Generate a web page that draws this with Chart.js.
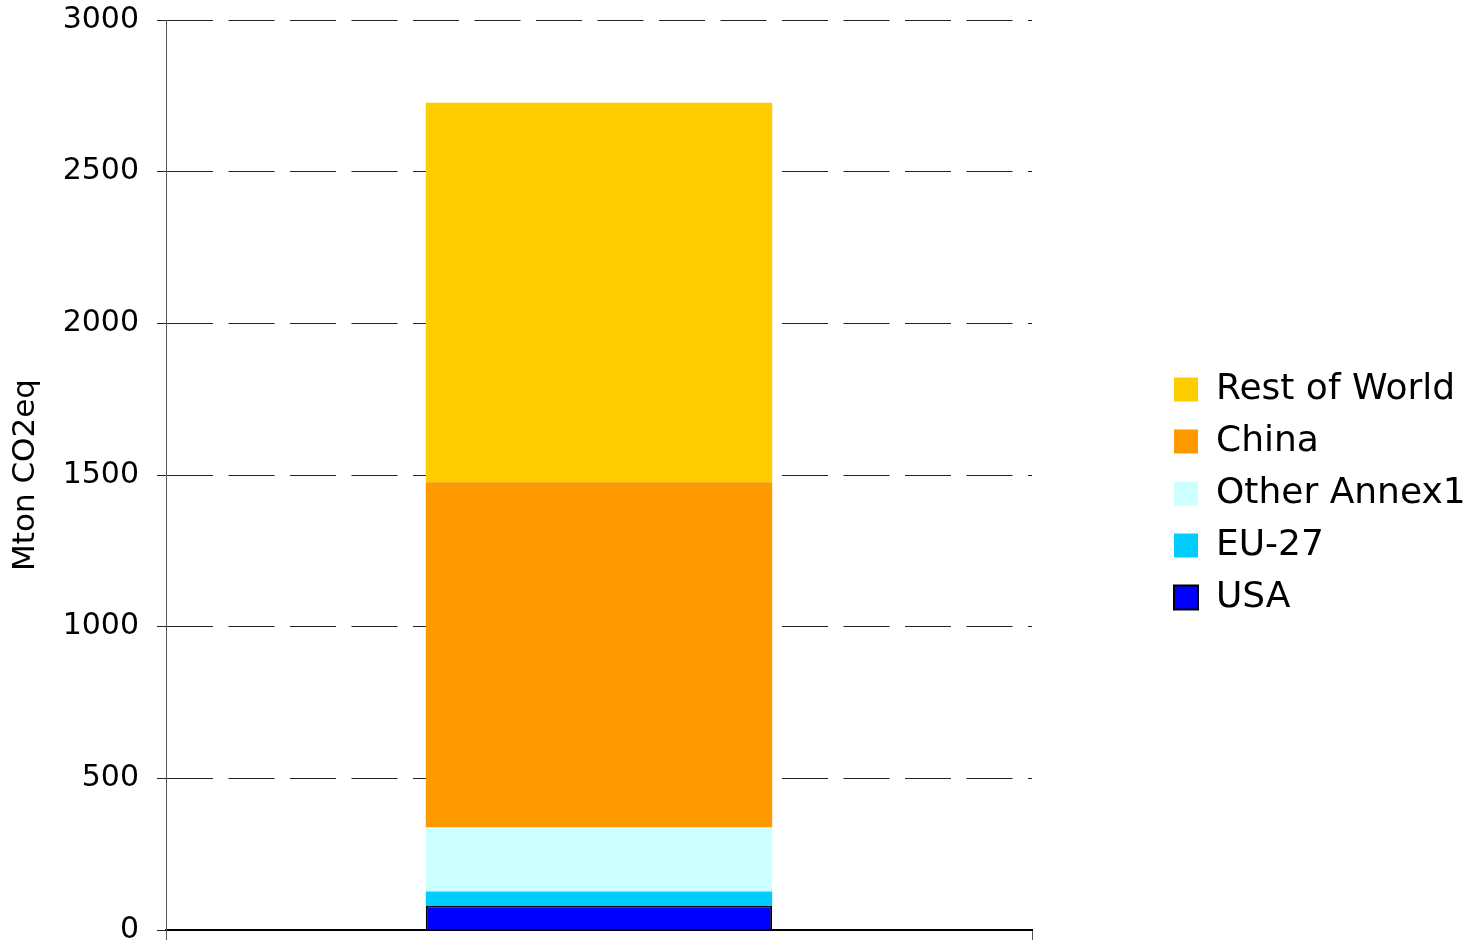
<!DOCTYPE html>
<html>
<head>
<meta charset="utf-8">
<script src="https://cdn.jsdelivr.net/npm/chart.js@4.4.1/dist/chart.umd.min.js"></script>
<style>
  html, body { margin: 0; padding: 0; background: #fff; }
  #wrap { width: 1469px; height: 945px; }
</style>
</head>
<body>
<div id="wrap"><canvas id="myChart" width="1469" height="945"></canvas></div>
<script>
// values (Mton CO2eq)
const categories = ['Total'];
const seriesNames = ['USA', 'EU-27', 'Other Annex1', 'China', 'Rest of World'];
const usa = [81];
const eu27 = [46];
const otherAnnex1 = [211];
const china = [1138];
const restOfWorld = [1251];
const yTicks = [0, 500, 1000, 1500, 2000, 2500, 3000];

const font = "'DejaVu Sans', Verdana, sans-serif";

// push legend over to the right, keep plot area narrow
const legendPlace = {
    id: 'legendPlace',
    beforeLayout(chart) {
        const lg = chart.legend;
        if (lg && !lg._wrapped) {
            const fit = lg.fit.bind(lg);
            lg.fit = function() {
                fit();
                this.width = 1469 - 1032;
            };
            lg._wrapped = true;
        }
    },
    afterLayout(chart) {
        const lg = chart.legend;
        lg.left = 1158;
        lg.right = 1469;
        lg.top += 11;
        lg.bottom += 11;
    }
};

const ctx = document.getElementById('myChart').getContext('2d');
const myChart = new Chart(ctx, {
    type: 'bar',
    data: {
        labels: categories,
        datasets: [
            { label: seriesNames[0], data: usa, backgroundColor: '#0000FF', borderColor: '#000000', borderWidth: 2 },
            { label: seriesNames[1], data: eu27, backgroundColor: '#00CCFF', borderWidth: 0 },
            { label: seriesNames[2], data: otherAnnex1, backgroundColor: '#CCFFFF', borderWidth: 0 },
            { label: seriesNames[3], data: china, backgroundColor: '#FF9900', borderWidth: 0 },
            { label: seriesNames[4], data: restOfWorld, backgroundColor: '#FFCC00', borderWidth: 0 }
        ]
    },
    options: {
        responsive: false,
        animation: false,
        layout: { padding: { top: 20, left: 0, right: 0, bottom: 0 } },
        datasets: { bar: { categoryPercentage: 1, barPercentage: 0.4 } },
        plugins: {
            legend: {
                position: 'right',
                reverse: true,
                labels: {
                    font: { family: font, size: 36 },
                    color: '#000',
                    boxWidth: 24,
                    boxHeight: 24,
                    padding: 16
                }
            },
            tooltip: { enabled: false }
        },
        scales: {
            x: {
                stacked: true,
                ticks: { display: false },
                grid: { drawOnChartArea: false, tickLength: 10, color: '#555', tickWidth: 1 },
                border: { color: '#000', width: 2 },
                afterFit(scale) { scale.height = 15; }
            },
            y: {
                stacked: true,
                min: 0,
                max: 3000,
                afterBuildTicks(scale) { scale.ticks = yTicks.map(v => ({ value: v })); },
                ticks: {
                    font: { family: font, size: 30 },
                    color: '#000',
                    padding: 18,
                    callback: v => String(v)
                },
                grid: {
                    color: '#222',
                    lineWidth: 1,
                    tickLength: 9,
                    tickColor: '#222',
                    tickBorderDash: []
                },
                border: { color: '#555', width: 1, dash: [46, 15.5] },
                title: {
                    display: true,
                    text: 'Mton CO2eq',
                    font: { family: font, size: 31 },
                    color: '#000',
                    padding: { top: 7, bottom: 0 }
                },
                afterFit(scale) {
                    scale.width = 166;
                    scale.paddingTop = 0;
                    scale.paddingBottom = 0;
                }
            }
        }
    },
    plugins: [legendPlace]
});
</script>
</body>
</html>
